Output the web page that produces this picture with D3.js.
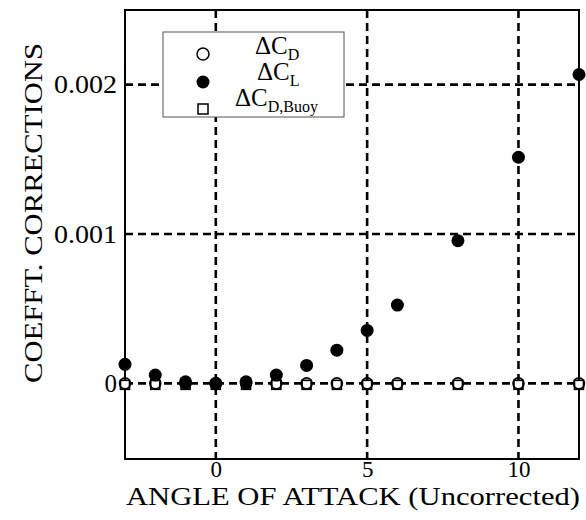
<!DOCTYPE html>
<html>
<head>
<meta charset="utf-8">
<script src="https://cdn.jsdelivr.net/npm/d3@7"></script>
</head>
<body style="margin:0">
<svg id="chart" width="586" height="520" style="font-family: 'Liberation Serif'"></svg>
<script>
// angle of attack (uncorrected), degrees
const angles = [-3, -2, -1, 0, 1, 2, 3, 4, 5, 6, 8, 10, 12];
// coefficient corrections
const deltaCD     = [0, 0, 0, 0, 0, 0, 0, 0, 0, 0, 0, 0, 0];
const deltaCL     = [0.000127, 0.000055, 0.00001, 0, 0.00001, 0.000055, 0.00012, 0.000222, 0.000354, 0.000524, 0.000955, 0.001514, 0.002068];
const deltaCDBuoy = [-0.00001, -0.00001, -0.00001, -0.00001, -0.00001, -0.00001, -0.00001, -0.00001, -0.00001, -0.00001, -0.00001, -0.00001, -0.00001];
const xTicks = [0, 5, 10];
const yTicks = [0, 0.001, 0.002];
const yTickLabels = ["0", "0.001", "0.002"];

const serif = "'Liberation Serif', 'Times New Roman', serif";
const svg = d3.select("#chart");
const mLeft = 125, mRight = 579, mTop = 10, mBottom = 458;

const x = d3.scaleLinear().domain([-3, 12]).range([mLeft, mRight]);
const y = d3.scaleLinear().domain([-0.0005, 0.0025]).range([mBottom, mTop]);

// dashed grid
let grid = svg.append("g").attr("stroke", "#000").attr("stroke-width", 2.6).attr("stroke-dasharray", "8,5");
grid.selectAll("line.v").data(xTicks).join("line").attr("class", "v")
    .attr("x1", d => x(d)).attr("x2", d => x(d))
    .attr("y1", mTop).attr("y2", mBottom + 1);
grid.selectAll("line.h").data(yTicks).join("line").attr("class", "h")
    .attr("x1", mLeft).attr("x2", mRight)
    .attr("y1", d => y(d)).attr("y2", d => y(d));

// frame
svg.append("rect")
    .attr("x", mLeft).attr("y", mTop)
    .attr("width", mRight - mLeft).attr("height", mBottom - mTop + 1)
    .attr("fill", "none").attr("stroke", "#000").attr("stroke-width", 2);

// axes labels
let xAxis = svg.append("g").attr("transform", `translate(0,${mBottom + 1})`)
    .call(d3.axisBottom(x).tickValues(xTicks).tickSize(0).tickPadding(0).tickFormat(d3.format("d")));
xAxis.attr("font-family", serif);
xAxis.select(".domain").remove();
xAxis.selectAll("text").attr("dy", null).attr("y", 18)
    .style("font-family", serif).style("font-size", "23px");

let yAxis = svg.append("g").attr("transform", `translate(${mLeft},0)`)
    .call(d3.axisLeft(y).tickValues(yTicks).tickSize(0).tickPadding(8).tickFormat((d, i) => yTickLabels[i]));
yAxis.attr("font-family", serif);
yAxis.select(".domain").remove();
yAxis.selectAll("text").style("font-family", serif).style("font-size", "25px")
    .attr("textLength", (d, i) => i === 0 ? null : 63)
    .attr("lengthAdjust", "spacingAndGlyphs");

svg.append("text")
    .attr("x", 126).attr("y", 505)
    .attr("textLength", 454).attr("lengthAdjust", "spacingAndGlyphs")
    .style("font-family", serif).style("font-size", "26px")
    .text("ANGLE OF ATTACK (Uncorrected)");

svg.append("text")
    .attr("transform", "translate(42,383) rotate(-90)")
    .attr("textLength", 340).attr("lengthAdjust", "spacingAndGlyphs")
    .style("font-family", serif).style("font-size", "25px")
    .text("COEFFT. CORRECTIONS");

// markers
const pts = (vals) => angles.map((a, i) => ({ a: a, v: vals[i] }));

svg.append("g").selectAll("rect").data(pts(deltaCDBuoy)).join("rect")
    .attr("x", d => x(d.a) - 4.5).attr("y", d => y(d.v) - 4.5)
    .attr("width", 9).attr("height", 9)
    .attr("fill", "#fff").attr("stroke", "#000").attr("stroke-width", 1.6);

svg.append("g").selectAll("circle").data(pts(deltaCD)).join("circle")
    .attr("cx", d => x(d.a)).attr("cy", d => y(d.v)).attr("r", 5.5)
    .attr("fill", "none").attr("stroke", "#000").attr("stroke-width", 1.6);

svg.append("g").selectAll("circle").data(pts(deltaCL)).join("circle")
    .attr("cx", d => x(d.a)).attr("cy", d => y(d.v)).attr("r", 6.5)
    .attr("fill", "#000");

// legend
const legend = svg.append("g");
legend.append("rect")
    .attr("x", 163).attr("y", 32).attr("width", 181).attr("height", 85)
    .attr("fill", "#fff").attr("stroke", "#555").attr("stroke-width", 1);
legend.append("circle").attr("cx", 203).attr("cy", 54).attr("r", 6)
    .attr("fill", "#fff").attr("stroke", "#000").attr("stroke-width", 1.5);
legend.append("circle").attr("cx", 203).attr("cy", 82).attr("r", 6.5).attr("fill", "#000");
legend.append("rect").attr("x", 198).attr("y", 104).attr("width", 10).attr("height", 10)
    .attr("fill", "#fff").attr("stroke", "#000").attr("stroke-width", 1.5);

const legendRows = [
    { sub: "D", xs: 255, ys: 54 },
    { sub: "L", xs: 257, ys: 80 },
    { sub: "D,Buoy", xs: 235, ys: 106 }
];
legend.selectAll("text").data(legendRows).join("text")
    .attr("x", d => d.xs).attr("y", d => d.ys)
    .style("font-family", serif).style("font-size", "25px")
    .each(function (d) {
        let t = d3.select(this);
        t.append("tspan").text("\u0394C");
        t.append("tspan").attr("dy", 6).style("font-size", "16px").text(d.sub);
    });
</script>
</body>
</html>
